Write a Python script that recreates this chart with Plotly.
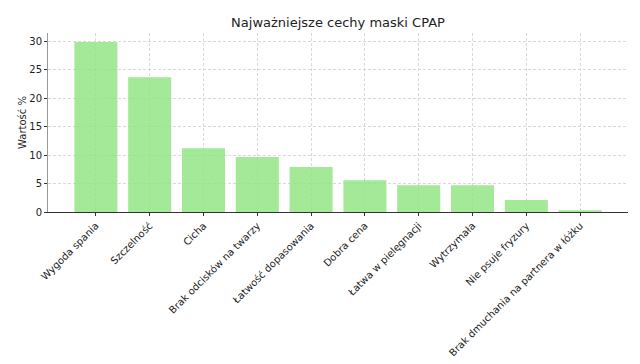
import plotly.graph_objects as go

categories = ["Wygoda spania", "Szczelność", "Cicha", "Brak odcisków na twarzy",
              "Łatwość dopasowania", "Dobra cena", "Łatwa w pielęgnacji",
              "Wytrzymała", "Nie psuje fryzury", "Brak dmuchania na partnera w łóżku"]
values = [29.9, 23.7, 11.2, 9.7, 7.9, 5.6, 4.7, 4.7, 2.1, 0.3]
y_ticks = [0, 5, 10, 15, 20, 25, 30]

fig = go.Figure(go.Bar(
    x=list(range(len(categories))), y=values, width=0.8,
    marker=dict(color="rgba(140,228,125,0.8)", line=dict(width=0)),
))

font = "DejaVu Sans, sans-serif"
fig.update_layout(
    width=640, height=364,
    margin=dict(l=48, r=12, t=33, b=152, autoexpand=False),
    paper_bgcolor="white", plot_bgcolor="white",
    font=dict(family=font, size=10, color="#222"),
    title=dict(text="Najważniejsze cechy maski CPAP", x=0.5, xanchor="center",
               xref="paper", y=1 - 22/364, yanchor="middle",
               font=dict(size=13, color="#222")),
    showlegend=False,
)
fig.update_xaxes(
    range=[-0.89, 9.89], tickmode="array", tickvals=list(range(len(categories))),
    ticktext=categories, tickangle=-45, showgrid=True, gridcolor="#d9d9d9",
    griddash="3px,2px", gridwidth=0.8, showline=True, linecolor="#333", linewidth=1,
    ticks="outside", ticklen=3, tickcolor="#333", zeroline=False, automargin=False,
    tickfont=dict(size=10, family=font),
)
fig.update_yaxes(
    range=[0, 31.5], tickmode="array", tickvals=y_ticks, showgrid=True,
    gridcolor="#d9d9d9", griddash="3px,2px", gridwidth=0.8, showline=True,
    linecolor="#999", linewidth=1, ticks="outside", ticklen=3, tickcolor="#333",
    zeroline=False, automargin=False,
    title=dict(text="Wartość %", font=dict(size=10, family=font), standoff=0),
    tickfont=dict(size=10, family=font),
)
fig.write_html("out.html", config={"displayModeBar": False},
               post_script="document.body.style.margin='0';document.body.style.overflow='hidden';")
